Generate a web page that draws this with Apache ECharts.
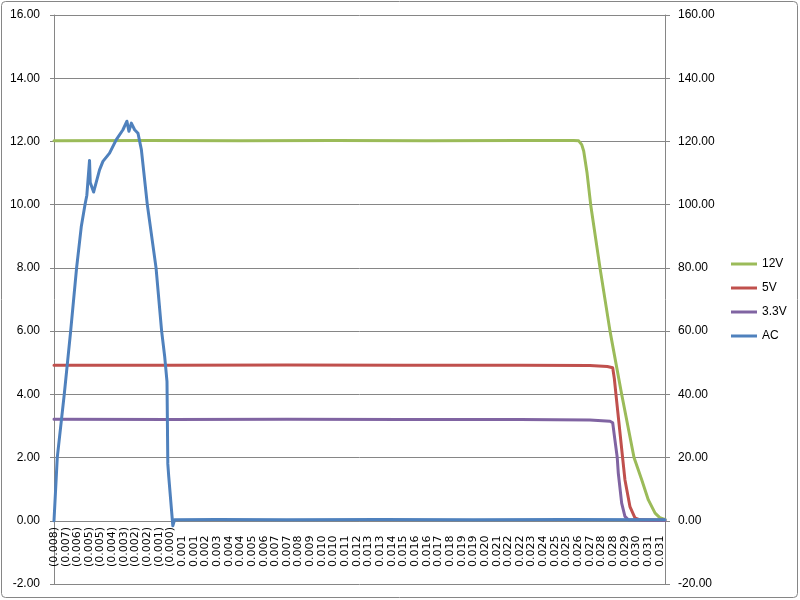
<!DOCTYPE html>
<html>
<head>
<meta charset="utf-8">
<script src="https://cdn.jsdelivr.net/npm/echarts@6/dist/echarts.min.js"></script>
<style>html,body{margin:0;padding:0;background:#fff}#c{width:800px;height:600px}</style>
</head>
<body>
<div id="c"></div>
<script>
// Category tick labels (time, s)
const tickLabels = ['(0.008)','(0.007)','(0.006)','(0.005)','(0.005)','(0.004)','(0.003)','(0.002)','(0.002)','(0.001)','(0.000)',
  '0.001','0.001','0.002','0.003','0.004','0.004','0.005','0.006','0.007','0.007','0.008','0.009',
  '0.010','0.010','0.011','0.012','0.013','0.013','0.014','0.015','0.016','0.016','0.017','0.018',
  '0.019','0.019','0.020','0.021','0.022','0.022','0.023','0.024','0.025','0.025','0.026','0.027',
  '0.028','0.028','0.029','0.030','0.031','0.031'];
const seriesNames = ['12V','5V','3.3V','AC'];
// [category position, value]
const v12 = [[0,12.02],[8,12.03],[16,12.02],[24,12.03],[32,12.02],[40,12.03],[44.6,12.03],[45.04,12.02],
  [45.3,11.9],[45.47,11.7],[45.76,11.0],[46.07,10.0],[46.87,8.0],[47.73,6.0],[48.73,4.0],[49.79,2.0],
  [50.45,1.3],[51.02,0.66],[51.6,0.24],[52.0,0.1],[52.31,0.06],[52.45,0.05]];
const v5 = [[0,4.92],[10,4.92],[20,4.93],[30,4.92],[40,4.92],[46,4.91],[47.5,4.88],[47.96,4.84],
  [48.1,4.5],[48.24,4.0],[48.81,2.0],[49.01,1.3],[49.44,0.45],[49.87,0.09],[50.3,0.03],[52.45,0.02]];
const v33 = [[0,3.21],[10,3.2],[20,3.21],[30,3.2],[40,3.2],[46,3.19],[47.73,3.15],[47.96,3.1],
  [48.15,2.56],[48.35,2.0],[48.44,1.51],[48.73,0.56],[49.01,0.14],[49.3,0.03],[52.45,0.02]];
const vAC = [[0,0],[0.28,20],[0.88,40],[1.43,60],[1.94,80],[2.34,93],[2.66,100],[2.82,103],[3.05,114],
  [3.11,107],[3.4,104],[3.91,111],[4.2,113.7],[4.77,116.3],[5.35,120.6],[5.92,123.7],[6.26,126.4],
  [6.43,123.2],[6.64,125.8],[6.92,123.7],[7.21,122.6],[7.5,117.4],[8.01,100],[8.76,80],[9.24,60],
  [9.5,52],[9.7,44],[9.77,18],[9.85,14],[10.2,-1.6],[10.35,0.3],[14,0.4],[20,0.3],[28,0.4],[36,0.3],
  [44,0.4],[52.45,0.3]];
const leftTicks = {min:-2, max:16, step:2};
const rightTicks = {min:-20, max:160, step:20};
const colors = ['#9BBB59','#C0504D','#8064A2','#4F81BD'];

const chart = echarts.init(document.getElementById('c'), null, {renderer:'canvas'});
const grey = '#868686';
const fontF = 'Liberation Sans, Arial, sans-serif';
const allData = [v12, v5, v33, vAC];
chart.setOption({
  animation:false,
  backgroundColor:'#fff',
  grid:{left:54, right:135, top:15, bottom:16, containLabel:false, outerBoundsMode:'none'},
  graphic:[{type:'rect', shape:{x:1.5,y:1.5,width:796,height:596,r:4}, style:{fill:null, stroke:grey, lineWidth:1}, z:100}],
  legend:{orient:'vertical', left:731, top:257, padding:0, icon:'rect', itemWidth:26, itemHeight:3, itemGap:10,
    data:seriesNames, textStyle:{fontSize:12, fontFamily:fontF, color:'#000', lineHeight:14}},
  xAxis:{type:'value', min:0, max:52.45, interval:1,
    axisLine:{onZero:true, onZeroAxisIndex:0, lineStyle:{color:grey}},
    axisTick:{show:false}, splitLine:{show:false},
    axisLabel:{rotate:90, align:'left', margin:-17, fontSize:11, fontFamily:'DejaVu Sans, sans-serif', color:'#000',
      formatter:function(v){ const r=Math.round(v); return Math.abs(v-r)<1e-6 && tickLabels[r]!==undefined ? tickLabels[r] : ''; }}},
  yAxis:[
    {type:'value', position:'left', min:leftTicks.min, max:leftTicks.max, interval:leftTicks.step,
     axisLine:{show:true, onZero:false, lineStyle:{color:grey}}, axisTick:{show:true, length:4, lineStyle:{color:grey}},
     splitLine:{show:true, lineStyle:{color:grey, width:1}},
     axisLabel:{margin:14, fontSize:12, fontFamily:fontF, color:'#000', formatter:v=>v.toFixed(2)}},
    {type:'value', position:'right', min:rightTicks.min, max:rightTicks.max, interval:rightTicks.step,
     axisLine:{show:true, onZero:false, lineStyle:{color:grey}}, axisTick:{show:true, length:5, lineStyle:{color:grey}},
     splitLine:{show:false},
     axisLabel:{margin:13, fontSize:12, fontFamily:fontF, color:'#000', formatter:v=>v.toFixed(2)}}
  ],
  series: seriesNames.map((n,i)=>({
    name:n, type:'line', data:allData[i], yAxisIndex: n==='AC'?1:0,
    showSymbol:false, symbol:'none', smooth:false,
    lineStyle:{width:3, color:colors[i], cap:'round', join:'round'}, itemStyle:{color:colors[i]},
    z: 2+i
  }))
});
</script>
</body>
</html>
